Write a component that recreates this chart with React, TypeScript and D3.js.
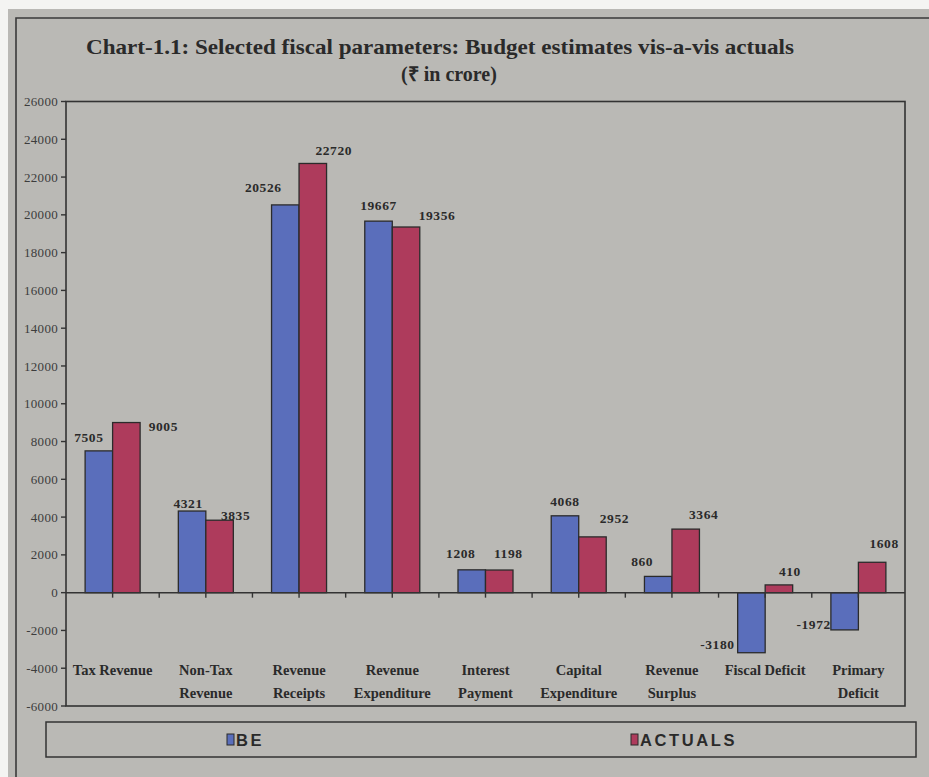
import React from "react";
import * as d3 from "d3";

// Fiscal parameters, ₹ in crore
const categories: string[][] = [
  ["Tax Revenue"],
  ["Non-Tax", "Revenue"],
  ["Revenue", "Receipts"],
  ["Revenue", "Expenditure"],
  ["Interest", "Payment"],
  ["Capital", "Expenditure"],
  ["Revenue", "Surplus"],
  ["Fiscal Deficit"],
  ["Primary", "Deficit"],
];
const beValues = [7505, 4321, 20526, 19667, 1208, 4068, 860, -3180, -1972];
const actualValues = [9005, 3835, 22720, 19356, 1198, 2952, 3364, 410, 1608];
const yTicks = [26000, 24000, 22000, 20000, 18000, 16000, 14000, 12000, 10000, 8000, 6000, 4000, 2000, 0, -2000, -4000, -6000];
const seriesNames = ["BE", "ACTUALS"];

// Hand-placed data label nudges (dx, dy) relative to the bar end
const beLabelNudge: [number, number][] = [
  [-10, -14], [-4, -8], [-22, -18], [0, -16], [-11, -17], [0, -15], [-16, -15], [-34, -8], [-31, -6],
];
const actualLabelNudge: [number, number][] = [
  [37, 4], [16, -5], [21, -13], [31, -12], [9, -17], [22, -19], [18, -15], [11, -14], [12, -19],
];

const W = 929;
const H = 777;
const plot = { left: 66, right: 905, top: 101.5, bottom: 706 };
const BLUE = "#5a6ebb";
const RED = "#ae3b5c";
const BG = "#bab9b5";
const INK = "#2a2a2a";
const SERIF = "'Liberation Serif', 'Times New Roman', serif";
const SANS = "'Liberation Sans', Arial, sans-serif";

export default function App() {
  const idx = categories.map((_, i) => String(i));
  const x = d3.scaleBand<string>().domain(idx).range([plot.left, plot.right]).padding(0);
  const y = d3.scaleLinear().domain([-6000, 26000]).range([plot.bottom, plot.top]);
  const step = x.step();
  const barW = step * 0.295;
  const y0 = y(0);

  const series = [
    { name: seriesNames[0], values: beValues, color: BLUE, nudge: beLabelNudge, offset: -1 },
    { name: seriesNames[1], values: actualValues, color: RED, nudge: actualLabelNudge, offset: 0 },
  ];

  // tick marks along the zero line: category boundaries and centres
  const xTickPos: number[] = [];
  for (let i = 1; i < categories.length * 2; i++) xTickPos.push(plot.left + (i * step) / 2);

  return (
    <svg
      width={W}
      height={H}
      viewBox={`0 0 ${W} ${H}`}
      style={{ position: "absolute", left: 0, top: 0, background: "#f4f4f2" }}
    >
      <rect x={8} y={9} width={W - 8} height={H - 9} fill={BG} />
      <path d={`M${W} 18 H16 V${H}`} fill="none" stroke="#3a3a3a" strokeWidth={1.6} />

      <text
        x={440}
        y={54}
        textAnchor="middle"
        fontFamily={SERIF}
        fontWeight="bold"
        fontSize={21}
        textLength={708}
        lengthAdjust="spacingAndGlyphs"
        fill={INK}
      >
        Chart-1.1: Selected fiscal parameters: Budget estimates vis-a-vis actuals
      </text>
      <text x={449} y={81} textAnchor="middle" fontFamily={SERIF} fontWeight="bold" fontSize={20} fill={INK}>
        (₹ in crore)
      </text>

      {/* plot frame */}
      <rect
        x={plot.left}
        y={plot.top}
        width={plot.right - plot.left}
        height={plot.bottom - plot.top}
        fill="none"
        stroke="#333"
        strokeWidth={1.6}
      />

      {/* y axis */}
      {yTicks.map((t) => (
        <g key={t}>
          <line x1={plot.left - 5} x2={plot.left} y1={y(t)} y2={y(t)} stroke="#333" strokeWidth={1.4} />
          <text
            x={plot.left - 8}
            y={y(t)}
            dy="0.35em"
            textAnchor="end"
            fontFamily={SERIF}
            fontSize={13}
            letterSpacing={0.3}
            fill="#3c3c3c"
          >
            {t}
          </text>
        </g>
      ))}

      {/* bars */}
      {series.map((s) =>
        s.values.map((v, i) => {
          const cx = (x(String(i)) as number) + step / 2;
          const bx = cx + s.offset * barW;
          const top = Math.min(y(v), y0);
          const h = Math.abs(y(v) - y0);
          return (
            <rect
              key={`${s.name}-${i}`}
              x={bx}
              y={top}
              width={barW}
              height={h}
              fill={s.color}
              stroke="#2b2b2b"
              strokeWidth={1.3}
            />
          );
        })
      )}

      {/* zero line and category ticks */}
      <line x1={plot.left} x2={plot.right} y1={y0} y2={y0} stroke="#333" strokeWidth={1.5} />
      {xTickPos.map((p) => (
        <line key={p} x1={p} x2={p} y1={y0} y2={y0 + 5} stroke="#333" strokeWidth={1.4} />
      ))}

      {/* data labels */}
      {series.map((s) =>
        s.values.map((v, i) => {
          const cx = (x(String(i)) as number) + step / 2;
          const barCx = cx + s.offset * barW + barW / 2;
          const [dx, dy] = s.nudge[i];
          return (
            <text
              key={`lbl-${s.name}-${i}`}
              x={barCx + dx}
              y={y(v) + dy}
              dy="0.35em"
              textAnchor="middle"
              fontFamily={SERIF}
              fontWeight="bold"
              fontSize={13.5}
              letterSpacing={0.6}
              fill={INK}
            >
              {v}
            </text>
          );
        })
      )}

      {/* category labels */}
      {categories.map((lines, i) => {
        const cx = (x(String(i)) as number) + step / 2;
        return (
          <text
            key={`cat-${i}`}
            textAnchor="middle"
            fontFamily={SERIF}
            fontWeight="bold"
            fontSize={14.5}
            fill={INK}
          >
            {lines.map((ln, j) => (
              <tspan key={j} x={cx} y={675 + j * 23}>
                {ln}
              </tspan>
            ))}
          </text>
        );
      })}

      {/* legend */}
      <rect x={46} y={722} width={870} height={35} fill="none" stroke="#333" strokeWidth={1.5} />
      {series.map((s, k) => {
        const lx = k === 0 ? 227 : 631;
        return (
          <g key={`leg-${s.name}`}>
            <rect x={lx} y={734} width={7} height={11} fill={s.color} stroke="#2b2b2b" strokeWidth={1} />
            <text
              x={lx + 9}
              y={746}
              fontFamily={SANS}
              fontWeight="bold"
              fontSize={16.5}
              letterSpacing={2.6}
              fill={INK}
            >
              {s.name}
            </text>
          </g>
        );
      })}
    </svg>
  );
}
